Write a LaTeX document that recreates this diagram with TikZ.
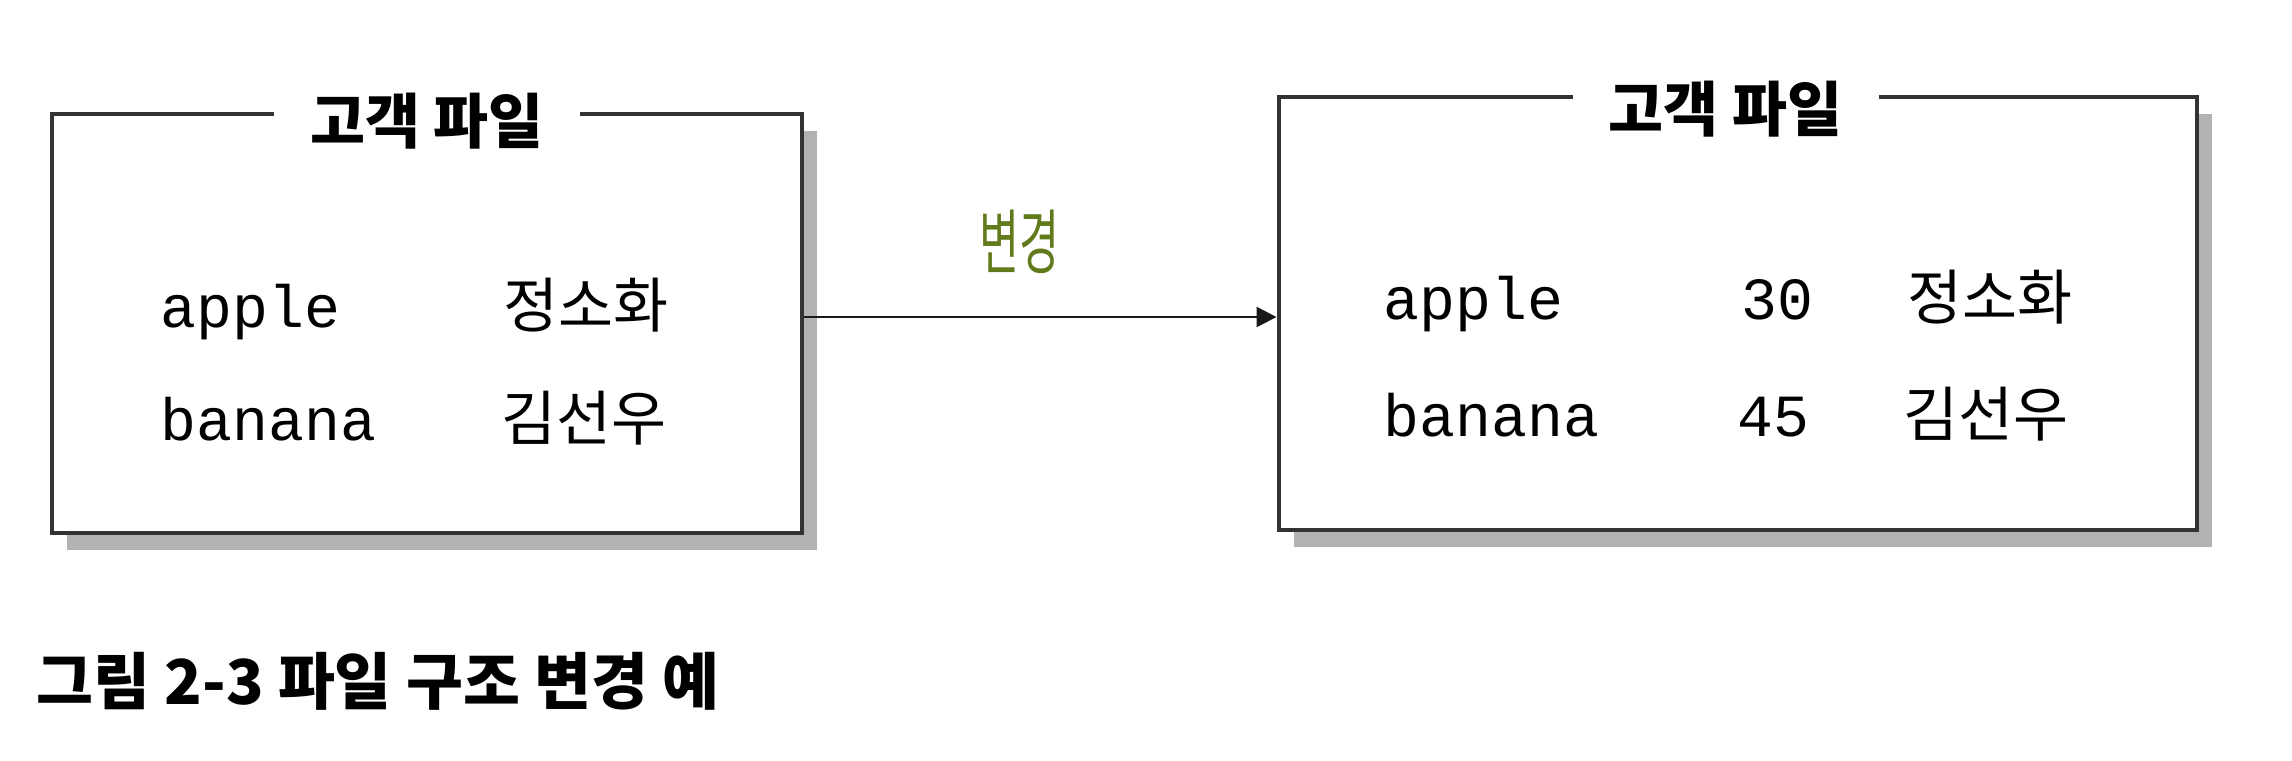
\documentclass[tikz,border=0pt]{standalone}
\usepackage{fontspec}
\usepackage{graphicx}
\setmainfont{Noto Sans CJK KR}
\newfontfamily\codefont{Liberation Mono}
\usetikzlibrary{arrows.meta,positioning,shadows}
\definecolor{pen}{RGB}{96,122,28}
\tikzstyle{filebox}=[draw=black!80,line width=0.04cm,fill=white,drop shadow={shadow xshift=0.15cm,shadow yshift=-0.17cm,fill=gray!60,opacity=1}]
\tikzstyle{boxtitle}=[fill=white,inner xsep=0.36cm,inner ysep=0.05cm,font=\fontsize{17}{20}\selectfont\bfseries]
\tikzstyle{keyfield}=[anchor=base west,inner sep=0pt,font=\codefont\fontsize{17}{20}\selectfont]
\tikzstyle{person}=[anchor=base west,inner sep=0pt,font=\fontsize{17}{20}\selectfont]
\tikzstyle{arrow}=[line width=0.025cm,-{Triangle[length=0.2cm,width=0.2cm]},draw=black!90]
\begin{document}
\begin{tikzpicture}[x=0.01cm,y=-0.01cm,node distance=13.1cm,auto]
    \useasboundingbox (0,0) rectangle (2292,760);
    \node (old) [filebox,minimum width=7.5cm,minimum height=4.19cm] at (427,323.5) {};
    \node (new) [filebox,minimum width=9.18cm,minimum height=4.33cm,right of=old,yshift=0.1cm] {};
    \node (oldT) [boxtitle,yshift=-0.09cm] at (old.north) {고객 파일};
    \node (newT) [boxtitle,xshift=-0.12cm,yshift=-0.14cm] at (new.north) {고객 파일};

    % old file
    \node (oldA) [keyfield] at (160,327) {apple};
    \node (oldB) [keyfield] at (160,440) {banana};
    \node (oldAn) [person] at (503,327) {정소화};
    \node (oldBn) [person] at (501,440) {김선우};

    % new file
    \node (newA) [keyfield] at (1383,319) {apple};
    \node (newB) [keyfield] at (1383,436) {banana};
    \node (newAv) [keyfield] at (1741,319) {30};
    \node (newBv) [keyfield] at (1737,436) {45};
    \node (newAn) [person] at (1907,319) {정소화};
    \node (newBn) [person] at (1903,436) {김선우};

    \draw[arrow] ([yshift=0.065cm]old.east) -- node [above=0.3cm,pos=0.455,text=pen] {\scalebox{0.8}[1.3]{\fontsize{15.5}{18}\selectfont 변경}} ([yshift=0.065cm]old.east -| new.west);

    \node (cap) [anchor=base west,inner sep=0pt,font=\fontsize{17.6}{20}\selectfont\bfseries] at (36,704) {그림 2-3 파일 구조 변경 예};
\end{tikzpicture}
\end{document}
